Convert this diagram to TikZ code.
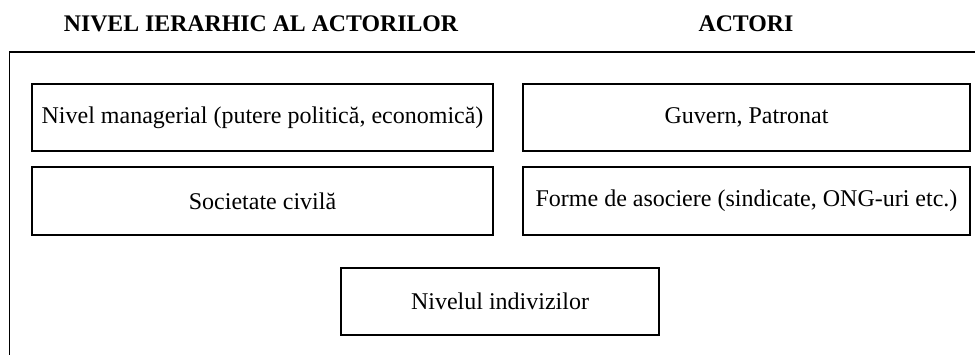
\documentclass[tikz,border=0pt]{standalone}
\usepackage{fontspec}
\setmainfont{Liberation Serif}
\begin{document}
\begin{tikzpicture}[x=1pt,y=-1pt,
  frame/.style={line width=1.6pt},
  lbl/.style={inner sep=0pt,font=\fontsize{24}{28}\selectfont},
  hdr/.style={font=\fontsize{23.8}{28}\selectfont\bfseries,inner sep=0pt}]
\useasboundingbox (0,0) rectangle (975,354);
\draw[frame] (985,52) -- (9.5,52) -- (9.5,364);
\node[hdr] (h1) at (261,24) {NIVEL IERARHIC AL ACTORILOR};
\node[hdr] (h2) at (746,24) {ACTORI};
\draw[frame] (32,84) rectangle (493,151);
\node[lbl] (b1) at (262.5,117.5) {Nivel managerial (putere politică, economică)};
\draw[frame] (523,84) rectangle (970,151);
\node[lbl] (b2) at (746.5,117.5) {Guvern, Patronat};
\draw[frame] (32,167) rectangle (493,235);
\node[lbl] (b3) at (262.5,201) {Societate civilă};
\draw[frame] (523,167) rectangle (970,235);
\node[lbl] (b4) at (746.5,201) {Forme de asociere (sindicate, ONG-uri etc.)};
\draw[frame] (341,268) rectangle (659,335);
\node[lbl] (b5) at (500,301.5) {Nivelul indivizilor};
\end{tikzpicture}
\end{document}
